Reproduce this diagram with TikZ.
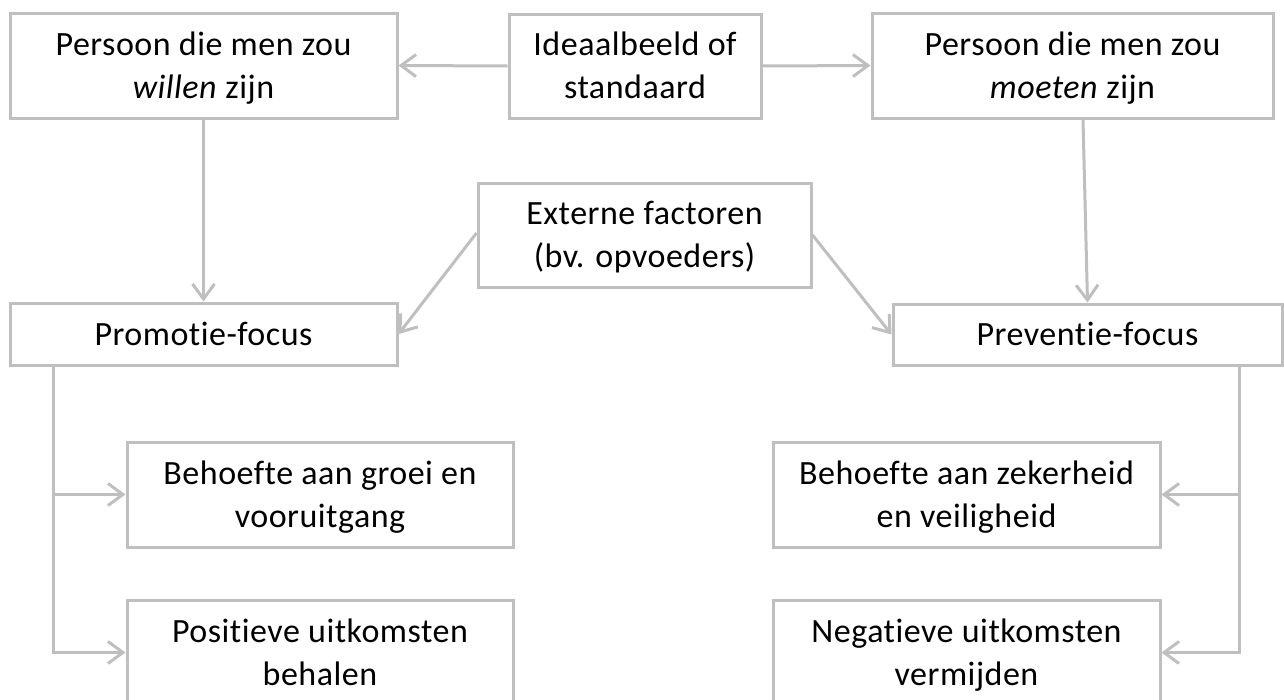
\documentclass[tikz,border=0pt]{standalone}
\usepackage{fontspec}
\setmainfont[Ligatures=NoCommon, LetterSpace=1.5]{Carlito}
\usetikzlibrary{arrows.meta}
\definecolor{linegray}{HTML}{BFBFBF}
\newcommand{\bstrut}{\rule[-10pt]{0pt}{42pt}}
\tikzset{
  box/.style={draw=linegray, line width=3pt, fill=white, inner sep=0pt, align=center,
    font=\fontsize{34}{41}\selectfont, text=black},
  conn/.style={draw=linegray, line width=3pt},
  arr/.style={conn, -{Straight Barb[length=15pt, width=22pt, line width=3pt]}},
}
\begin{document}
\begin{tikzpicture}[x=1pt, y=-1pt]
\useasboundingbox (0,0) rectangle (1284,699);
\clip (0,0) rectangle (1284,699);
\node[box, minimum width=387pt, minimum height=105pt] (willen) at (203.5,65.5) {\bstrut Persoon die men zou\\\textit{willen} zijn\bstrut};
\node[box, minimum width=252pt, minimum height=104pt] (ideaal) at (635,66) {\bstrut Ideaalbeeld of\\standaard\bstrut};
\node[box, minimum width=401pt, minimum height=105pt] (moeten) at (1072.5,65.5) {\bstrut Persoon die men zou\\\textit{moeten} zijn\bstrut};
\node[box, minimum width=333pt, minimum height=104pt] (externe) at (644.5,235) {\bstrut Externe factoren\\(bv. opvoeders)\bstrut};
\node[box, minimum width=387pt, minimum height=62pt] (promotie) at (203.5,334) {\bstrut Promotie-focus};
\node[box, minimum width=389pt, minimum height=61pt] (preventie) at (1087.5,334.5) {\bstrut Preventie-focus};
\node[box, minimum width=386pt, minimum height=105pt] (groei) at (320,494.5) {\bstrut Behoefte aan groei en\\vooruitgang\bstrut};
\node[box, minimum width=386pt, minimum height=105pt] (positief) at (320,652.5) {\bstrut Positieve uitkomsten\\behalen\bstrut};
\node[box, minimum width=387pt, minimum height=105pt] (zeker) at (966.5,494.5) {\bstrut Behoefte aan zekerheid\\en veiligheid\bstrut};
\node[box, minimum width=387pt, minimum height=105pt] (negatief) at (966.5,652.5) {\bstrut Negatieve uitkomsten\\vermijden\bstrut};
% connectors
\draw[arr] (ideaal.west) -- (willen.east);
\draw[arr] (ideaal.east) -- (moeten.west);
\draw[arr] (willen.south) -- (promotie.north);
\draw[arr] ([xshift=10.5pt]moeten.south) -- (preventie.north);
\draw[arr] ([yshift=2pt]externe.west) -- (promotie.east);
\draw[arr] (externe.east) -- (preventie.west);
\coordinate (lt) at (53,365);
\coordinate (rt) at (1239,365);
\draw[arr] (lt) |- (groei.west);
\draw[arr] (lt) |- (positief.west);
\draw[arr] (rt) |- (zeker.east);
\draw[arr] (rt) |- (negatief.east);
\end{tikzpicture}
\end{document}
